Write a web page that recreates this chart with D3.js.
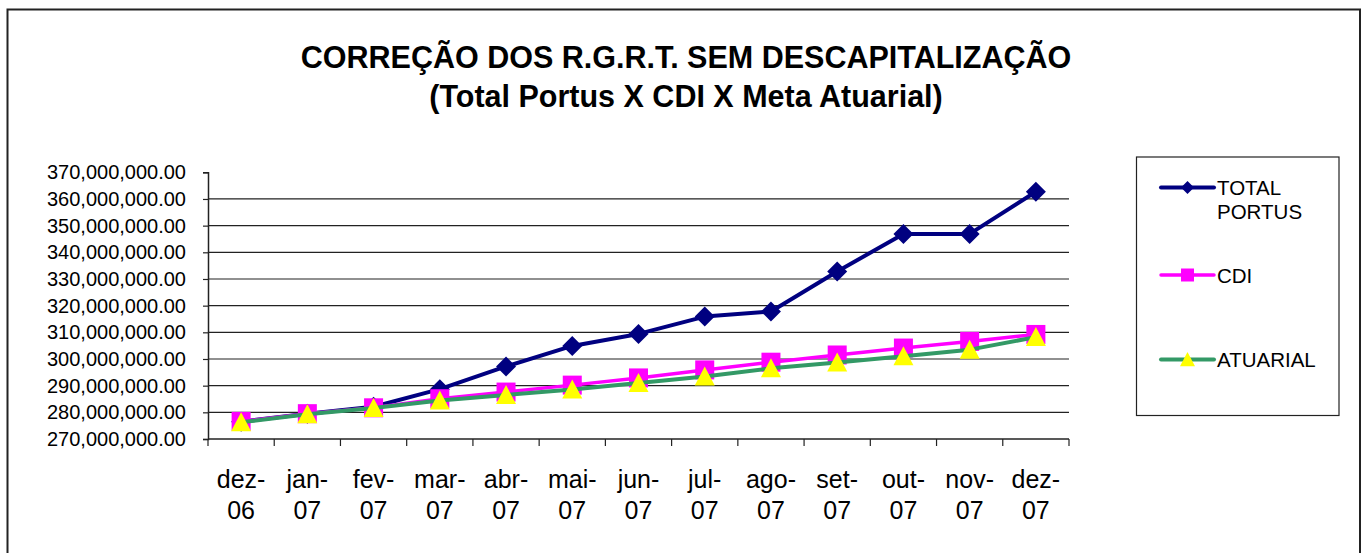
<!DOCTYPE html>
<html>
<head>
<meta charset="utf-8">
<script src="https://cdn.jsdelivr.net/npm/d3@7"></script>
<style>
  html, body { margin: 0; padding: 0; background: #fff; }
  svg { display: block; font-family: "Liberation Sans", Arial, sans-serif; }
</style>
</head>
<body>
<svg id="chart" width="1361" height="553"></svg>
<script>
const categories = ["dez-06","jan-07","fev-07","mar-07","abr-07","mai-07","jun-07","jul-07","ago-07","set-07","out-07","nov-07","dez-07"];
const totalPortus = [276.5e6, 279.5e6, 282.1e6, 288.7e6, 297.2e6, 304.9e6, 309.4e6, 315.9e6, 317.8e6, 332.8e6, 346.9e6, 346.9e6, 362.7e6];
const cdi        = [276.6e6, 279.5e6, 281.7e6, 285.1e6, 287.6e6, 290.2e6, 292.9e6, 295.9e6, 298.8e6, 301.5e6, 304.1e6, 306.6e6, 309.2e6];
const atuarial   = [276.3e6, 279.3e6, 281.6e6, 284.4e6, 286.5e6, 288.6e6, 291.0e6, 293.4e6, 296.5e6, 298.7e6, 301.0e6, 303.5e6, 308.2e6];
const yTicks = [270e6, 280e6, 290e6, 300e6, 310e6, 320e6, 330e6, 340e6, 350e6, 360e6, 370e6];
const seriesNames = ["TOTAL PORTUS", "CDI", "ATUARIAL"];
const titleLines = ["CORREÇÃO DOS R.G.R.T. SEM DESCAPITALIZAÇÃO", "(Total Portus X CDI X Meta Atuarial)"];

(function () {
const svg = d3.select("#chart");

// outer chart border
svg.append("rect").attr("x", 7.5).attr("y", 9.5).attr("width", 1352.5).attr("height", 560)
  .attr("fill", "none").attr("stroke", "#222").attr("stroke-width", 2);

// title
svg.append("text").attr("x", 686).attr("y", 68).attr("text-anchor", "middle")
  .attr("font-size", 30.5).attr("font-weight", "bold").text(titleLines[0]);
svg.append("text").attr("x", 686).attr("y", 107).attr("text-anchor", "middle")
  .attr("font-size", 30.5).attr("font-weight", "bold").text(titleLines[1]);

const pLeft = 208, pRight = 1069, pTop = 172.3, pBottom = 439;
const x = d3.scaleBand().domain(categories).range([pLeft, pRight]).padding(0);
const y = d3.scaleLinear().domain([270e6, 370e6]).range([pBottom, pTop]);
const cx = c => x(c) + x.bandwidth() / 2;

// gridlines
svg.append("g").selectAll("line").data(yTicks.filter(t => t > 270e6 && t < 370e6)).join("line")
  .attr("x1", pLeft).attr("x2", pRight).attr("y1", d => y(d)).attr("y2", d => y(d))
  .attr("stroke", "#222").attr("stroke-width", 1.2);

// y axis
const yAxis = d3.axisLeft(y).tickValues(yTicks).tickFormat(d3.format(",.2f")).tickSize(5).tickPadding(17);
const gy = svg.append("g").attr("transform", `translate(${pLeft},0)`).call(yAxis);
gy.select(".domain").attr("stroke", "#222").attr("stroke-width", 1.5);
gy.selectAll(".tick line").attr("stroke", "#222").attr("stroke-width", 1.2);
gy.selectAll(".tick text").attr("font-size", 20).attr("fill", "#000")
  .attr("font-family", "Liberation Sans, Arial, sans-serif");

// x axis line and ticks at band boundaries
svg.append("line").attr("x1", pLeft).attr("x2", pRight).attr("y1", pBottom).attr("y2", pBottom)
  .attr("stroke", "#222").attr("stroke-width", 1.5);
const bounds = categories.map(c => x(c)).concat([pRight]);
svg.append("g").selectAll("line").data(bounds).join("line")
  .attr("x1", d => d).attr("x2", d => d).attr("y1", pBottom).attr("y2", pBottom + 7)
  .attr("stroke", "#222").attr("stroke-width", 1.2);
const xl = svg.append("g").selectAll("text").data(categories).join("text")
  .attr("x", d => cx(d)).attr("text-anchor", "middle").attr("font-size", 25).attr("fill", "#000");
xl.append("tspan").attr("x", d => cx(d)).attr("y", 488).text(d => d.split("-")[0] + "-");
xl.append("tspan").attr("x", d => cx(d)).attr("y", 519).text(d => d.split("-")[1]);

// series
const line = d3.line().x((d, i) => cx(categories[i])).y(d => y(d));
const markers = {
  diamond: (g, px, py, s = 10) => g.append("path")
    .attr("d", `M${px},${py - s}L${px + s},${py}L${px},${py + s}L${px - s},${py}Z`).attr("fill", "#000080"),
  square: (g, px, py, s = 9.5) => g.append("rect")
    .attr("x", px - s).attr("y", py - s).attr("width", 2 * s).attr("height", 2 * s).attr("fill", "#FF00FF"),
  triangle: (g, px, py, s = 10) => g.append("path")
    .attr("d", `M${px},${py - s}L${px + s},${py + s * 0.9}L${px - s},${py + s * 0.9}Z`).attr("fill", "#FFFF00")
};
function drawSeries(values, color, width, markerFn) {
  svg.append("path").datum(values).attr("d", line).attr("fill", "none")
    .attr("stroke", color).attr("stroke-width", width).attr("stroke-linejoin", "round");
  values.forEach((v, i) => markerFn(svg, cx(categories[i]), y(v)));
}
drawSeries(totalPortus, "#000080", 4, markers.diamond);
drawSeries(cdi, "#FF00FF", 3.5, markers.square);
drawSeries(atuarial, "#339966", 4, markers.triangle);

// legend
svg.append("rect").attr("x", 1136.5).attr("y", 157).attr("width", 202.5).attr("height", 258.5)
  .attr("fill", "#fff").attr("stroke", "#222").attr("stroke-width", 1.2);
const legendRows = [
  { name: seriesNames[0], color: "#000080", w: 4, m: "diamond", y: 187.5, ms: 6.5 },
  { name: seriesNames[1], color: "#FF00FF", w: 3.5, m: "square", y: 275, ms: 6.5 },
  { name: seriesNames[2], color: "#339966", w: 4, m: "triangle", y: 359.5, ms: 7.5 }
];
legendRows.forEach(r => {
  svg.append("line").attr("x1", 1161).attr("x2", 1214).attr("y1", r.y).attr("y2", r.y)
    .attr("stroke", r.color).attr("stroke-width", r.w).attr("stroke-linecap", "round");
  markers[r.m](svg, 1187.5, r.y, r.ms);
  const t = svg.append("text").attr("x", 1217).attr("font-size", 20.5).attr("fill", "#000");
  const parts = r.name.split(" ");
  if (parts.length > 1) {
    t.append("tspan").attr("x", 1217).attr("y", r.y + 7.5).text(parts[0]);
    t.append("tspan").attr("x", 1217).attr("y", r.y + 31).text(parts[1]);
  } else {
    t.attr("y", r.y + 7.5).text(r.name);
  }
});
})();
</script>
</body>
</html>
